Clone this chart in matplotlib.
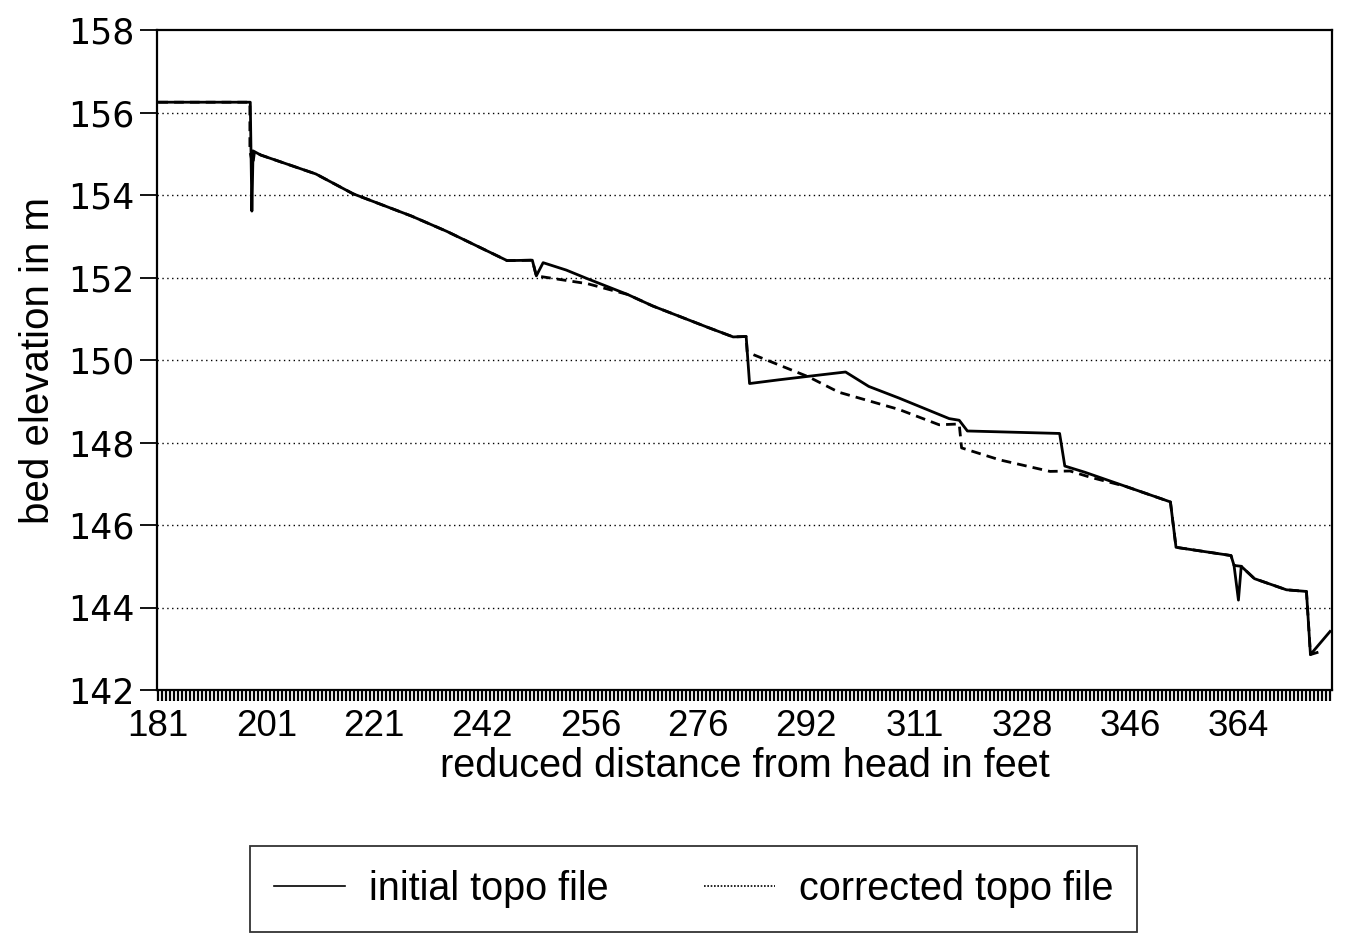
import numpy as np
import matplotlib
matplotlib.use("Agg")
import matplotlib.pyplot as plt
from matplotlib.lines import Line2D

# x is the category index along the reach (one category per cross section)
n_sections = 294
tick_every = 27
tick_labels = ["181", "201", "221", "242", "256", "276", "292", "311", "328", "346", "364"]

# initial topo file (vertices: category index, elevation m)
init_x = [0, 23.0, 23.4, 23.7, 25.6, 39.4, 48.7, 63.3, 72.1, 87.2, 93.5, 94.5, 96.2,
          102.0, 107.3, 117.3, 123.6, 137.4, 143.7, 146.95, 147.8, 155.1, 163.8, 171.8,
          177.6, 185.1, 197.7, 200.2, 202.25, 225.3, 226.6, 231.6, 242.9, 253.0, 254.4,
          268.15, 268.9, 270.0, 270.7, 274.0, 282.0, 287.0, 288.0, 292.9]
init_y = [156.25, 156.25, 153.61, 155.07, 154.97, 154.51, 154.03, 153.49, 153.12, 152.41,
          152.42, 152.04, 152.36, 152.18, 151.97, 151.59, 151.31, 150.79, 150.56, 150.57,
          149.43, 149.52, 149.62, 149.71, 149.36, 149.08, 148.58, 148.54, 148.28, 148.22,
          147.43, 147.28, 146.90, 146.56, 145.46, 145.26, 145.02, 144.18, 145.00, 144.70,
          144.43, 144.39, 142.86, 143.42]

# corrected topo file
corr_x = [0, 22.9, 22.9, 23.6, 24.1, 25.6, 39.4, 48.7, 63.3, 72.1, 87.2, 93.5, 94.5,
          107.3, 117.3, 123.6, 137.4, 143.7, 146.95, 147.2, 149.0, 162.6, 170.1, 185.2,
          195.2, 200.2, 200.8, 210.3, 222.9, 227.9, 232.9, 241.7, 253.0, 254.4, 268.15,
          268.9, 270.7, 274.0, 282.0, 287.0, 288.0, 291.4]
corr_y = [156.25, 156.25, 155.07, 154.73, 155.07, 154.97, 154.51, 154.03, 153.49, 153.12,
          152.41, 152.42, 152.04, 151.85, 151.59, 151.31, 150.79, 150.56, 150.57, 150.2,
          150.12, 149.59, 149.22, 148.80, 148.43, 148.45, 147.87, 147.58, 147.30, 147.31,
          147.16, 146.94, 146.56, 145.46, 145.26, 145.02, 145.00, 144.70, 144.43, 144.39,
          142.86, 142.96]

plt.rcParams['font.family'] = ['Liberation Sans', 'DejaVu Sans']

fig = plt.figure(figsize=(13.47, 9.41), dpi=100)
ax = fig.add_axes([0.1166, 0.2667, 0.8723, 0.7014])

# corrected first so the initial line sits on top where they coincide
ax.plot(corr_x, corr_y, color='black', lw=2.0, linestyle=(0, (3.5, 2.2)))
ax.plot(init_x, init_y, color='black', lw=2.0)

ax.set_xlim(-0.3, n_sections - 0.6)
ax.set_ylim(142, 158)

# y axis
ax.set_yticks(np.arange(142, 159, 2))
ax.tick_params(axis='y', direction='out', length=12, width=1.3, pad=4,
               labelsize=25)
for lab in ax.get_yticklabels():
    lab.set_family('DejaVu Sans')
for v in range(144, 157, 2):
    ax.axhline(v, color='black', lw=1.0, linestyle=(0, (1, 2.5)), zorder=0)

# x axis: a tick at every section, labels every few sections
ax.set_xticks(np.arange(0, n_sections, tick_every)[:len(tick_labels)])
ax.set_xticklabels(tick_labels)
ax.set_xticks(np.arange(0, n_sections), minor=True)
ax.tick_params(axis='x', which='both', direction='out', length=8, width=1.6,
               pad=6, labelsize=26.5)

for s in ax.spines.values():
    s.set_linewidth(1.6)

ax.set_ylabel("bed elevation in m", fontsize=29, labelpad=8)
ax.set_xlabel("reduced distance from head in feet", fontsize=28.5, labelpad=2)

handles = [Line2D([], [], color='black', lw=1.2),
           Line2D([], [], color='black', lw=1.2, linestyle=(0, (1, 1)))]
leg = fig.legend(handles, ["initial topo file", "corrected topo file"],
                 loc='center', bbox_to_anchor=(0.515, 0.055), ncol=2,
                 fontsize=28.5, frameon=True, fancybox=False, edgecolor='black',
                 handlelength=1.8, handletextpad=0.6, columnspacing=2.4,
                 borderpad=0.6)
leg.get_frame().set_linewidth(1.3)

fig.savefig("out.png", dpi=100)
